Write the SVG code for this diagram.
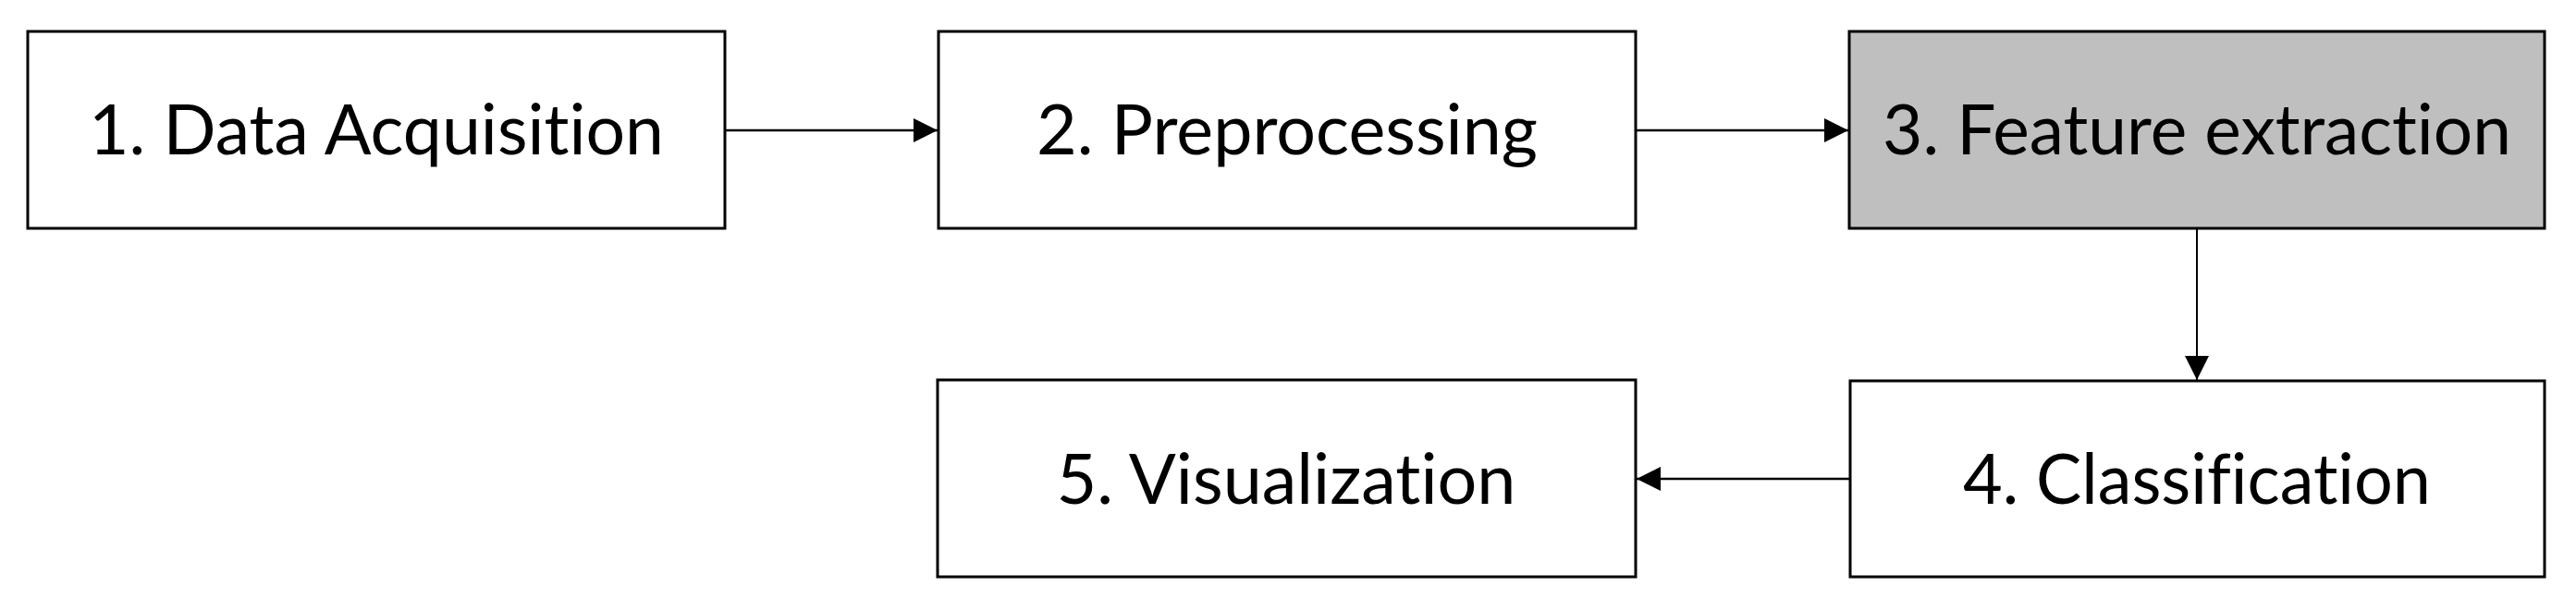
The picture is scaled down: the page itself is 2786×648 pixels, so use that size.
<svg xmlns="http://www.w3.org/2000/svg" width="2786" height="648" viewBox="0 0 2786 648">
  <style>
    .box { fill: #ffffff; stroke: #000000; stroke-width: 3; }
    .hl { fill: #bfbfbf; }
    .lbl { font-family: Lato, "Open Sans", "Liberation Sans", sans-serif; font-size: 75px; fill: #000000; text-anchor: middle; font-variant-ligatures: none; font-feature-settings: "liga" 0, "clig" 0; }
    .conn { stroke: #000000; stroke-width: 2.7; fill: none; marker-end: url(#arrow); }
    .thin { stroke-width: 2; }
  </style>
  <defs>
    <marker id="arrow" markerUnits="userSpaceOnUse" markerWidth="26" markerHeight="26" refX="26" refY="13" orient="auto" viewBox="0 0 26 26">
      <path d="M0,0 L26,13 L0,26 z" fill="#000000"/>
    </marker>
  </defs>
  <rect x="0" y="0" width="2786" height="648" fill="#ffffff"/>

  <g id="connectors">
    <line class="conn" x1="784" y1="141" x2="1014" y2="141"/>
    <line class="conn" x1="1769" y1="141" x2="1999" y2="141"/>
    <line class="conn thin" x1="2376" y1="247" x2="2376" y2="411"/>
    <line class="conn" x1="2001" y1="518" x2="1770" y2="518"/>
  </g>

  <g id="node1">
    <rect class="box" x="30" y="34" width="754" height="213"/>
    <text class="lbl" x="407" y="167" textLength="622" lengthAdjust="spacingAndGlyphs">1. Data Acquisition</text>
  </g>
  <g id="node2">
    <rect class="box" x="1015" y="34" width="754" height="213"/>
    <text class="lbl" x="1392" y="167" textLength="542" lengthAdjust="spacingAndGlyphs">2. Preprocessing</text>
  </g>
  <g id="node3">
    <rect class="box hl" x="2000" y="34" width="752" height="213"/>
    <text class="lbl" x="2376" y="167" textLength="680" lengthAdjust="spacingAndGlyphs">3. Feature extraction</text>
  </g>
  <g id="node4">
    <rect class="box" x="2001" y="412" width="751" height="212"/>
    <text class="lbl" x="2376" y="545" textLength="506" lengthAdjust="spacingAndGlyphs">4. Classification</text>
  </g>
  <g id="node5">
    <rect class="box" x="1014" y="411" width="755" height="213"/>
    <text class="lbl" x="1391" y="545" textLength="497" lengthAdjust="spacingAndGlyphs">5. Visualization</text>
  </g>
</svg>
